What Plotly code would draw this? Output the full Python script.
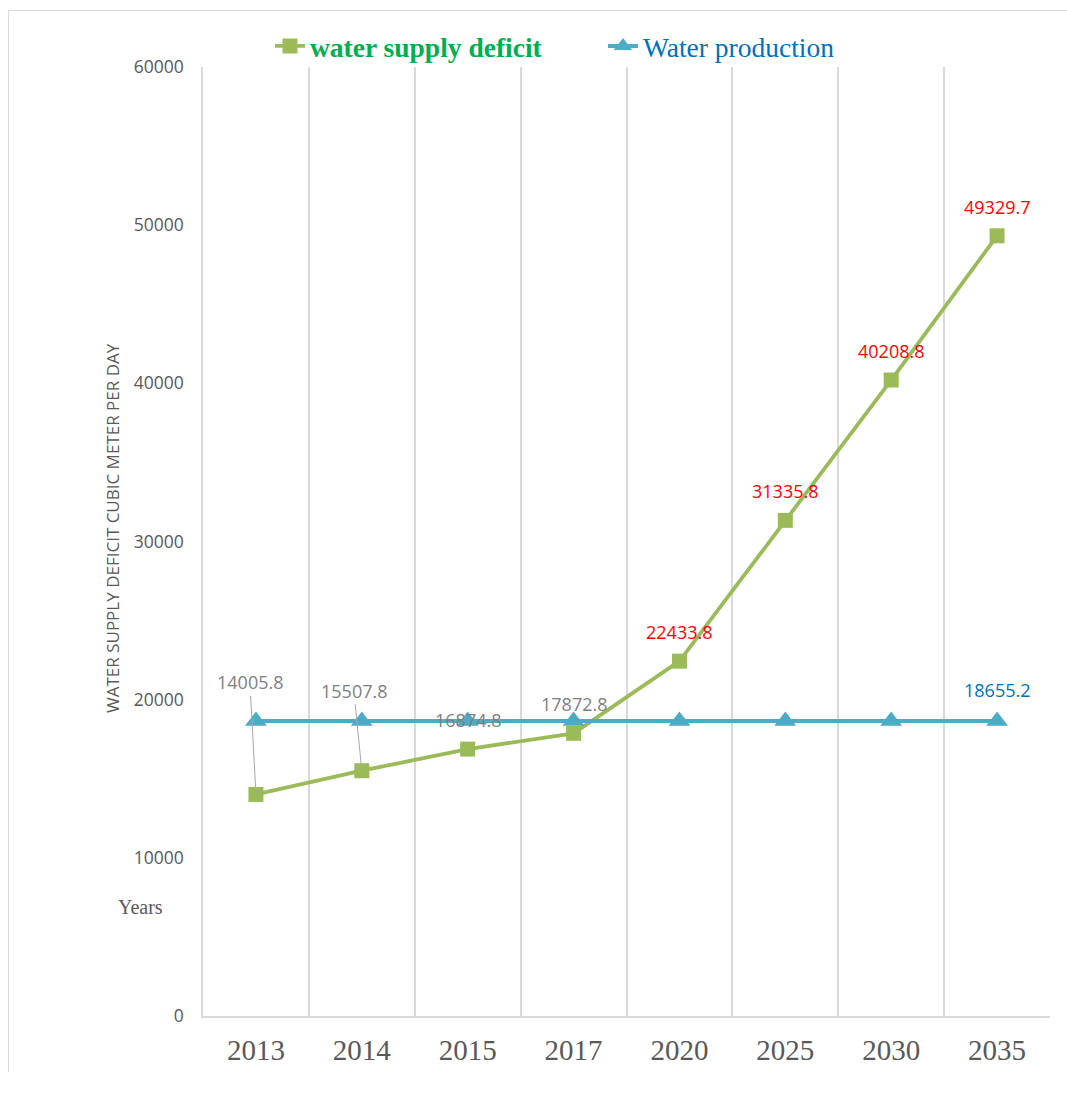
import plotly.graph_objects as go

# Chart data
years = ["2013", "2014", "2015", "2017", "2020", "2025", "2030", "2035"]
deficit = [14005.8, 15507.8, 16874.8, 17872.8, 22433.8, 31335.8, 40208.8, 49329.7]
production = [18655.2, 18655.2, 18655.2, 18655.2, 18655.2, 18655.2, 18655.2, 18655.2]
y_ticks = [0, 10000, 20000, 30000, 40000, 50000, 60000]

GREEN = "#9bbb59"
BLUE = "#4bacc6"
GRID = "#d9d9d9"
TXT = "#595959"
LABEL_FONT = "Open Sans"

W, H = 1067, 1100
L, R, T, B = 203, 17, 67, 84
pw, ph = W - L - R, H - T - B


def px_x(x):
    return (x - L) / pw


def px_y(y):
    return (H - B - y) / ph


fig = go.Figure()

fig.add_trace(go.Scatter(
    x=years, y=deficit,
    name="<b><span style='color:#00b050'>water supply deficit</span></b>",
    mode="lines+markers",
    line=dict(color=GREEN, width=3.8),
    marker=dict(symbol="square", size=15, color=GREEN),
))
fig.add_trace(go.Scatter(
    x=years, y=production,
    name="<span style='color:#0070c0'>Water production</span>",
    mode="lines+markers",
    line=dict(color=BLUE, width=4),
    marker=dict(symbol="triangle-up", size=19, color=BLUE),
))

annotations = []
# value labels on the deficit line: gray for the early years, red for projections
leader_offsets = {0: (-6, -112), 1: (-8, -80)}
for i, v in enumerate(deficit):
    color = "#7f7f7f" if i < 4 else "#ff0000"
    if i in leader_offsets:
        ax, ay = leader_offsets[i]
        annotations.append(dict(
            x=i, y=v, text=f"{v:.1f}", showarrow=True, arrowhead=0,
            arrowwidth=1, arrowcolor="#a6a6a6", ax=ax, ay=ay, standoff=0,
            xanchor="center", yanchor="middle",
            font=dict(family=LABEL_FONT, size=18, color=color),
        ))
    else:
        annotations.append(dict(
            x=i, y=v, text=f"{v:.1f}", showarrow=False, yshift=29,
            xanchor="center", yanchor="middle",
            font=dict(family=LABEL_FONT, size=18, color=color),
        ))

# label on the last production point
last = len(production) - 1
annotations.append(dict(
    x=last, y=production[last], text=f"{production[last]:.1f}",
    showarrow=False, yshift=31, xanchor="center", yanchor="middle",
    font=dict(family=LABEL_FONT, size=18, color="#0070c0"),
))

# vertical axis title
annotations.append(dict(
    xref="paper", yref="paper", x=px_x(112), y=px_y(528),
    text="WATER SUPPLY DEFICIT CUBIC METER PER DAY", textangle=-90,
    xanchor="center", yanchor="middle", showarrow=False,
    font=dict(family="Open Sans", size=17, color=TXT),
))

annotations.append(dict(
    xref="paper", yref="paper", x=px_x(140), y=px_y(907), text="Years",
    xanchor="center", yanchor="middle",
    showarrow=False, font=dict(family="Liberation Serif", size=20, color=TXT),
))

shapes = [
    # outer chart border (left and top)
    dict(type="line", xref="paper", yref="paper",
         x0=px_x(8.5), x1=px_x(8.5), y0=px_y(10), y1=px_y(1072),
         line=dict(color=GRID, width=1)),
    dict(type="line", xref="paper", yref="paper",
         x0=px_x(8), x1=px_x(1070), y0=px_y(10.5), y1=px_y(10.5),
         line=dict(color=GRID, width=1)),
]

fig.update_layout(
    width=W, height=H,
    margin=dict(l=L, r=R, t=T, b=B),
    paper_bgcolor="white", plot_bgcolor="white",
    showlegend=True,
    legend=dict(
        orientation="h", x=px_x(270), y=px_y(46), xanchor="left", yanchor="middle",
        font=dict(family="Liberation Serif", size=27.5),
        entrywidth=288,
        bgcolor="rgba(0,0,0,0)",
    ),
    annotations=annotations,
    shapes=shapes,
    xaxis=dict(
        type="category", range=[-0.5, 7.5], tickson="boundaries",
        showgrid=True, gridcolor=GRID, gridwidth=1.5,
        showline=True, linecolor=GRID, linewidth=1.5,
        ticks="", tickfont=dict(family="Liberation Serif", size=29, color=TXT),
        ticklabelstandoff=7,
    ),
    yaxis=dict(
        range=[0, 60000], tickvals=y_ticks, ticktext=[str(v) for v in y_ticks],
        showgrid=False, zeroline=False,
        showline=True, linecolor=GRID, linewidth=1.5,
        ticks="", tickfont=dict(family="Open Sans", size=17.5, color=TXT),
        ticklabelstandoff=14,
    ),
)

fig.write_html("out.html")
